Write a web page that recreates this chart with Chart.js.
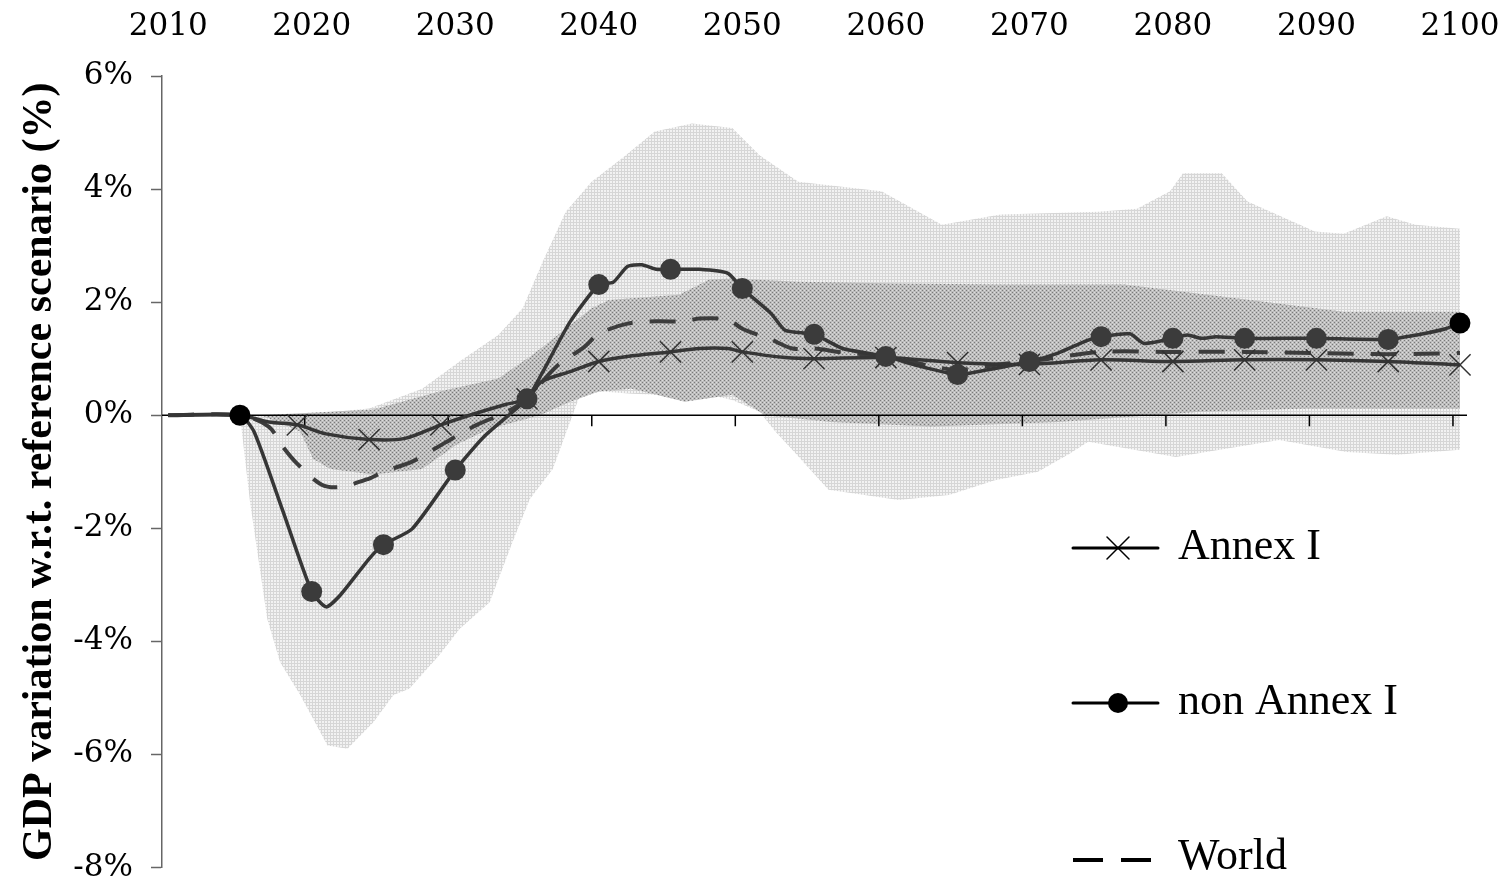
<!DOCTYPE html>
<html>
<head>
<meta charset="utf-8">
<script src="https://cdn.jsdelivr.net/npm/chart.js@4.4.1/dist/chart.umd.min.js"></script>
<style>
  html, body { margin: 0; padding: 0; background: #fff; overflow: hidden; }
  #wrap { width: 1508px; height: 884px; }
</style>
</head>
<body>
<div id="wrap"><canvas id="gdpChart"></canvas></div>
<script>
// tick labels
const yearTicks = [2010, 2020, 2030, 2040, 2050, 2060, 2070, 2080, 2090, 2100];
const pctTicks = [-8, -6, -4, -2, 0, 2, 4, 6];

// series : non Annex I (circles)
const nonAnnexYears = [2010, 2015, 2016, 2018, 2020, 2021, 2022, 2024, 2025, 2027, 2030, 2032, 2035, 2036, 2038,
  2040, 2041, 2042, 2043, 2044, 2045, 2047, 2049, 2050, 2052, 2053, 2055, 2057, 2060, 2062, 2065, 2067,
  2070, 2072, 2074, 2075, 2077, 2078, 2080, 2081, 2082, 2083, 2085, 2090, 2095, 2097, 2099, 2100];
const nonAnnexValues = [0, 0, -0.3, -1.7, -3.12, -3.39, -3.18, -2.54, -2.29, -2.01, -0.97, -0.38, 0.29, 0.72, 1.65,
  2.31, 2.35, 2.63, 2.66, 2.58, 2.58, 2.58, 2.51, 2.24, 1.8, 1.5, 1.43, 1.18, 1.04, 0.89, 0.72, 0.8,
  0.95, 1.1, 1.32, 1.39, 1.44, 1.27, 1.36, 1.42, 1.36, 1.39, 1.36, 1.36, 1.34, 1.42, 1.53, 1.63];

// series : Annex I (crosses)
const annexYears = [2010, 2015, 2017, 2019, 2021, 2024, 2026.5, 2029, 2031, 2033.5, 2035, 2036, 2038, 2040, 2042,
  2045, 2047, 2049, 2050, 2053, 2055, 2060, 2065, 2070, 2075, 2080, 2085, 2090, 2095, 2100];
const annexValues = [0, 0, -0.12, -0.17, -0.33, -0.43, -0.41, -0.17, 0, 0.19, 0.29, 0.59, 0.77, 0.95, 1.04,
  1.12, 1.18, 1.18, 1.12, 1.02, 1.0, 1.02, 0.93, 0.9, 0.98, 0.95, 0.98, 0.98, 0.95, 0.89];
const annexMarkerYears = [2019, 2024, 2029, 2035, 2040, 2045, 2050, 2055, 2060, 2065, 2070, 2075, 2080, 2085, 2090, 2095, 2100];

// series : World (dashed)
const worldYears = [2010, 2015, 2017, 2018, 2019, 2020.7, 2022, 2024, 2025, 2027, 2028.6, 2030, 2031.5, 2033.6, 2035,
  2037, 2039, 2040, 2042, 2044, 2046, 2047, 2049, 2050, 2052, 2053.5, 2055, 2057, 2060, 2063, 2065, 2068,
  2070, 2075, 2080, 2085, 2090, 2095, 2100];
const worldValues = [0, 0, -0.2, -0.56, -0.86, -1.23, -1.27, -1.12, -1.0, -0.82, -0.59, -0.38, -0.17, 0.06, 0.29,
  0.85, 1.21, 1.44, 1.62, 1.66, 1.66, 1.71, 1.69, 1.53, 1.34, 1.18, 1.18, 1.11, 1.04, 0.88, 0.8, 0.9,
  0.95, 1.12, 1.12, 1.12, 1.1, 1.08, 1.1];

// outer range (light)
const outerUpperYears = [2015, 2020, 2024, 2027.7, 2030.3, 2033, 2034.7, 2036.1, 2037.7, 2039.5, 2041.6, 2043.9, 2046.5,
  2049.3, 2051.2, 2053.9, 2059.7, 2063.9, 2068, 2074.8, 2077.5, 2079.8, 2080.7, 2083.4, 2085.2, 2089.9, 2091.9,
  2094.9, 2096.9, 2100];
const outerUpperValues = [0, 0.02, 0.12, 0.47, 0.95, 1.42, 1.89, 2.72, 3.6, 4.13, 4.54, 5.02, 5.16,
  5.08, 4.6, 4.13, 3.96, 3.37, 3.55, 3.6, 3.65, 3.96, 4.28, 4.28, 3.78, 3.25, 3.21,
  3.52, 3.37, 3.3];
const outerLowerYears = [2015, 2015.7, 2016.9, 2017.8, 2019.2, 2021.1, 2022.5, 2024.3, 2025.7, 2026.8, 2028.9, 2030.3,
  2032.4, 2034, 2035.2, 2036.8, 2038, 2038.7, 2040.2, 2042.3, 2044.2, 2046, 2047.7, 2049.3, 2051.2, 2052.3, 2053.4,
  2056, 2060.9, 2064.4, 2067.6, 2070.6, 2072.8, 2074.1, 2080.2, 2087.4, 2092.1, 2095.6, 2100];
const outerLowerValues = [0, -1.53, -3.6, -4.37, -4.95, -5.84, -5.9, -5.43, -4.95, -4.84, -4.24, -3.78,
  -3.31, -2.24, -1.48, -0.95, -0.12, 0.36, 0.42, 0.38, 0.36, 0.29, 0.36, 0.27, 0.06, -0.29, -0.59,
  -1.32, -1.5, -1.41, -1.15, -1.0, -0.68, -0.47, -0.74, -0.44, -0.65, -0.7, -0.61];

// inner range (stippled)
const innerUpperYears = [2016.5, 2024.3, 2028.9, 2033, 2035.4, 2037.7, 2039.5, 2040.7, 2045.6, 2047.7, 2049.3, 2053.9,
  2060.9, 2067.9, 2076.6, 2084.4, 2091.9, 2100];
const innerUpperValues = [0, 0.1, 0.42, 0.65, 1.07, 1.53, 1.89, 2.04, 2.13, 2.4, 2.42, 2.36,
  2.33, 2.31, 2.31, 2.07, 1.83, 1.83];
const innerLowerYears = [2016.5, 2019.2, 2020.1, 2021.3, 2024.3, 2027.7, 2030.1, 2032.4, 2035.9, 2038, 2040, 2042.3,
  2046, 2049.3, 2051.6, 2056.2, 2063.2, 2072, 2081.9, 2089.4, 2100];
const innerLowerValues = [0, -0.29, -0.77, -0.95, -1.05, -0.95, -0.52, -0.24, 0, 0.24, 0.42, 0.47,
  0.24, 0.36, 0, -0.12, -0.2, -0.12, 0.06, 0.12, 0.12];

const legendLabels = ["Annex I", "non Annex I", "World"];

// helpers

const toPoints = (xs, ys) => xs.map((x, i) => ({ x, y: ys[i] }));
const bandPolygon = (ux, uy, lx, ly) => toPoints(ux, uy).concat(toPoints(lx, ly).reverse());

function makePattern(size, draw) {
  const c = document.createElement("canvas");
  c.width = size; c.height = size;
  const g = c.getContext("2d");
  draw(g);
  return g.createPattern(c, "repeat");
}

const outerPattern = makePattern(3, (g) => {
  g.fillStyle = "#f2f2f2"; g.fillRect(0, 0, 3, 3);
  g.fillStyle = "#d6d6d6"; g.fillRect(0, 0, 3, 1); g.fillRect(0, 0, 1, 3);
});
const innerPattern = makePattern(4, (g) => {
  g.fillStyle = "#bdbdbd"; g.fillRect(0, 0, 4, 4);
  g.fillStyle = "#7a7a7a"; g.fillRect(0, 0, 1, 1); g.fillRect(2, 2, 1, 1);
  g.fillStyle = "#dedede"; g.fillRect(2, 0, 1, 1); g.fillRect(0, 2, 1, 1);
});

const lineColor = "#363636";
const serif = "'Liberation Serif', serif";
const tickFont = { family: "'DejaVu Serif', serif", size: 31 };

// axe du zero + traits des annees, dessines par-dessus les bandes
const zeroAxisPlugin = {
  id: "zeroAxis",
  afterDatasetDraw(chart, args) {
    if (args.index !== 1) return;
    const { ctx, chartArea, scales } = chart;
    const y0 = scales.y.getPixelForValue(0);
    ctx.save();
    ctx.strokeStyle = "#000";
    ctx.lineWidth = 1.5;
    ctx.beginPath();
    ctx.moveTo(chartArea.left, y0);
    ctx.lineTo(chartArea.right, y0);
    yearTicks.slice(1).forEach((yr) => {
      const x = scales.x.getPixelForValue(yr) - 7;
      ctx.moveTo(x, y0);
      ctx.lineTo(x, y0 + 11);
    });
    ctx.stroke();
    ctx.restore();
  }
};

// legende a droite dans la zone du graphique
const sideLegendPlugin = {
  id: "sideLegend",
  afterDraw(chart) {
    const { ctx } = chart;
    const x0 = 1073, x1 = 1158, xm = 1118, tx = 1178;
    const rows = [548, 703, 858];
    ctx.save();
    ctx.strokeStyle = "#000";
    ctx.fillStyle = "#000";
    ctx.lineWidth = 3;
    ctx.lineCap = "round";
    rows.forEach((y, i) => {
      ctx.beginPath();
      if (i === 2) {
        ctx.lineCap = "butt";
        ctx.moveTo(x0, y + 2); ctx.lineTo(x0 + 30, y + 2);
        ctx.moveTo(x0 + 48, y + 2); ctx.lineTo(x0 + 78, y + 2);
        ctx.lineWidth = 4;
      } else {
        ctx.moveTo(x0, y); ctx.lineTo(x1, y);
      }
      ctx.stroke();
      if (i === 0) {
        ctx.lineWidth = 1.5;
        ctx.beginPath();
        ctx.moveTo(xm - 11, y - 11); ctx.lineTo(xm + 11, y + 11);
        ctx.moveTo(xm + 11, y - 11); ctx.lineTo(xm - 11, y + 11);
        ctx.stroke();
        ctx.lineWidth = 3;
      } else if (i === 1) {
        ctx.beginPath();
        ctx.arc(xm, y, 10, 0, Math.PI * 2);
        ctx.fill();
      }
      ctx.font = "44px " + serif;
      ctx.textBaseline = "middle";
      ctx.fillText(legendLabels[i], tx, y - 1);
    });
    ctx.restore();
  }
};

const canvas = document.querySelector("#gdpChart");

new Chart(canvas.getContext("2d"), {
  type: "line",
  data: {
    datasets: [
      {
        label: "outer range",
        data: bandPolygon(outerUpperYears, outerUpperValues, outerLowerYears, outerLowerValues),
        fill: "shape",
        backgroundColor: outerPattern,
        borderWidth: 0,
        pointRadius: 0,
        tension: 0,
        order: 10
      },
      {
        label: "inner range",
        data: bandPolygon(innerUpperYears, innerUpperValues, innerLowerYears, innerLowerValues),
        fill: "shape",
        backgroundColor: innerPattern,
        borderWidth: 0,
        pointRadius: 0,
        tension: 0,
        order: 9
      },
      {
        label: "World",
        data: toPoints(worldYears, worldValues),
        borderColor: "#3c3c3c",
        borderWidth: 4,
        borderDash: [26, 17],
        pointRadius: 0,
        tension: 0.3,
        fill: false,
        clip: false,
        order: 3
      },
      {
        label: "Annex I",
        data: toPoints(annexYears, annexValues),
        borderColor: lineColor,
        borderWidth: 3.5,
        tension: 0.3,
        fill: false,
        clip: false,
        pointStyle: "crossRot",
        pointRadius: (c) => (c.raw && annexMarkerYears.includes(c.raw.x) ? 15 : 0),
        pointBorderWidth: 1.5,
        pointBorderColor: "#333",
        order: 2
      },
      {
        label: "non Annex I",
        data: toPoints(nonAnnexYears, nonAnnexValues),
        borderColor: lineColor,
        borderWidth: 3.5,
        tension: 0.2,
        fill: false,
        clip: false,
        pointStyle: "circle",
        pointRadius: (c) => (c.raw && c.raw.x >= 2015 && c.raw.x % 5 === 0 ? 10.5 : 0),
        pointBorderWidth: 0,
        pointBackgroundColor: (c) => (c.raw && (c.raw.x === 2015 || c.raw.x === 2100) ? "#000" : "#3b3b3b"),
        order: 1
      }
    ]
  },
  options: {
    responsive: true,
    maintainAspectRatio: false,
    animation: false,
    layout: { padding: { top: 2, left: 15, right: 41, bottom: 14 } },
    plugins: {
      legend: { display: false },
      tooltip: { enabled: false }
    },
    scales: {
      x: {
        type: "linear",
        position: "top",
        min: 2009.57,
        max: 2100.49,
        afterBuildTicks: (axis) => { axis.ticks = yearTicks.map((v) => ({ value: v })); },
        afterFit: (axis) => { axis.height = 74; axis.paddingLeft = 0; axis.paddingRight = 0; },
        grid: { display: false },
        border: { display: false },
        ticks: {
          color: "#000",
          font: tickFont,
          padding: 22,
          maxRotation: 0,
          callback: (v) => String(v)
        }
      },
      y: {
        min: -8,
        max: 6,
        afterBuildTicks: (axis) => { axis.ticks = pctTicks.map((v) => ({ value: v })); },
        afterFit: (axis) => { axis.width = 147; axis.paddingTop = 0; axis.paddingBottom = 0; },
        grid: {
          drawOnChartArea: false,
          drawTicks: true,
          tickLength: 11,
          tickColor: "#666",
          tickWidth: 1.5
        },
        border: { display: true, color: "#666", width: 1.5 },
        ticks: {
          color: "#000",
          font: tickFont,
          padding: 18,
          callback: (v) => v + "%"
        },
        title: {
          display: true,
          text: "GDP variation w.r.t. reference scenario (%)",
          color: "#000",
          font: { family: serif, size: 42, weight: "bold" },
          padding: { top: 0, bottom: 0 }
        }
      }
    }
  },
  plugins: [zeroAxisPlugin, sideLegendPlugin]
});
</script>
</body>
</html>
